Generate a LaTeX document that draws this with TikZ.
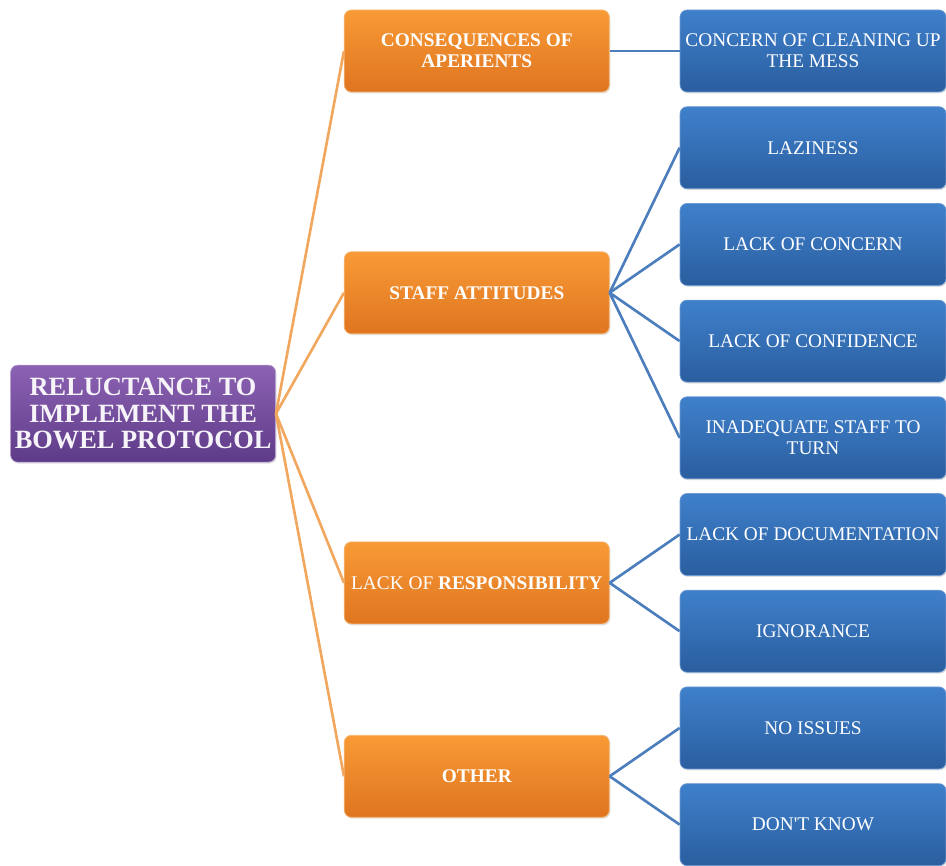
\documentclass[tikz,border=0pt]{standalone}
\usepackage{fontspec}
\setmainfont{Liberation Serif}
\usetikzlibrary{positioning,calc,shadows}

\definecolor{rootTop}{HTML}{8C62B3}
\definecolor{rootBot}{HTML}{5E3B88}
\definecolor{rootEdge}{HTML}{B9A2D2}
\definecolor{causeTop}{HTML}{F89A36}
\definecolor{causeBot}{HTML}{DF7520}
\definecolor{causeEdge}{HTML}{F6B877}
\definecolor{reasonTop}{HTML}{3F80CB}
\definecolor{reasonBot}{HTML}{2A5E9F}
\definecolor{reasonEdge}{HTML}{6F9BD3}
\definecolor{linkOrange}{HTML}{F2A75E}
\definecolor{linkBlue}{HTML}{4C7DBC}

\begin{document}
\begin{tikzpicture}[
		box/.style={rectangle, rounded corners=4pt, text=white, align=center, inner sep=1pt, thin,
			drop shadow={opacity=0.25, shadow xshift=0.6pt, shadow yshift=-0.8pt}},
		root/.style={box, top color=rootTop, bottom color=rootBot, draw=rootEdge, text=white!92!rootTop,
			minimum width=53mm, minimum height=19.4mm, font=\bfseries\fontsize{15}{15}\selectfont},
		cause/.style={box, top color=causeTop, bottom color=causeBot, draw=causeEdge,
			minimum width=53mm, minimum height=16.4mm, font=\fontsize{11}{12}\selectfont},
		reason/.style={box, top color=reasonTop, bottom color=reasonBot, draw=reasonEdge,
			minimum width=53.2mm, minimum height=16.4mm, font=\fontsize{11}{12}\selectfont},
		orangelink/.style={draw=linkOrange, line width=1.5pt},
		bluelink/.style={draw=linkBlue, line width=1.5pt},
		node distance=2.8mm,
		]
		\useasboundingbox (0,0) rectangle (18.92,-17.3);

		%Reasons
		\node[reason]	(mess)		at (16.26,-1.02)		{CONCERN OF CLEANING UP\\THE MESS};
		\node[reason]	(lazy)		[below=of mess]		{LAZINESS};
		\node[reason]	(concern)	[below=of lazy]		{LACK OF CONCERN};
		\node[reason]	(confid)	[below=of concern]	{LACK OF CONFIDENCE};
		\node[reason]	(turn)		[below=of confid]	{INADEQUATE STAFF TO\\TURN};
		\node[reason]	(docum)		[below=of turn]		{LACK OF DOCUMENTATION};
		\node[reason]	(ignor)		[below=of docum]	{IGNORANCE};
		\node[reason]	(noissue)	[below=of ignor]	{NO ISSUES};
		\node[reason]	(dontknow)	[below=of noissue]	{DON\textquotesingle T KNOW};

		%Causes
		\coordinate (staffmid)	at ($(lazy.west)!0.5!(turn.west)$);
		\coordinate (respmid)	at ($(docum.west)!0.5!(ignor.west)$);
		\coordinate (othermid)	at ($(noissue.west)!0.5!(dontknow.west)$);
		\node[cause]	(conseq)	[left=14mm of mess]		{\bfseries CONSEQUENCES OF\\\bfseries APERIENTS};
		\node[cause]	(staff)		[left=14mm of staffmid]	{\bfseries STAFF ATTITUDES};
		\node[cause]	(respons)	[left=14mm of respmid]	{LACK OF \textbf{RESPONSIBILITY}};
		\node[cause]	(other)		[left=14mm of othermid]	{\bfseries OTHER};

		%Root
		\coordinate (rootmid)	at ($(conseq.west)!0.5!(other.west)$);
		\node[root]	(reluct)	[left=13.6mm of rootmid]	{RELUCTANCE TO\\IMPLEMENT THE\\BOWEL PROTOCOL};

		%Links
		\foreach \c in {conseq, staff, respons, other}
			\draw[orangelink]	(reluct.east)	--	(\c.west);
		\draw[bluelink]	(conseq.east)	--	(mess.west);
		\foreach \r in {lazy, concern, confid, turn}
			\draw[bluelink]	(staff.east)	--	(\r.west);
		\foreach \r in {docum, ignor}
			\draw[bluelink]	(respons.east)	--	(\r.west);
		\foreach \r in {noissue, dontknow}
			\draw[bluelink]	(other.east)	--	(\r.west);
	\end{tikzpicture}
\end{document}
